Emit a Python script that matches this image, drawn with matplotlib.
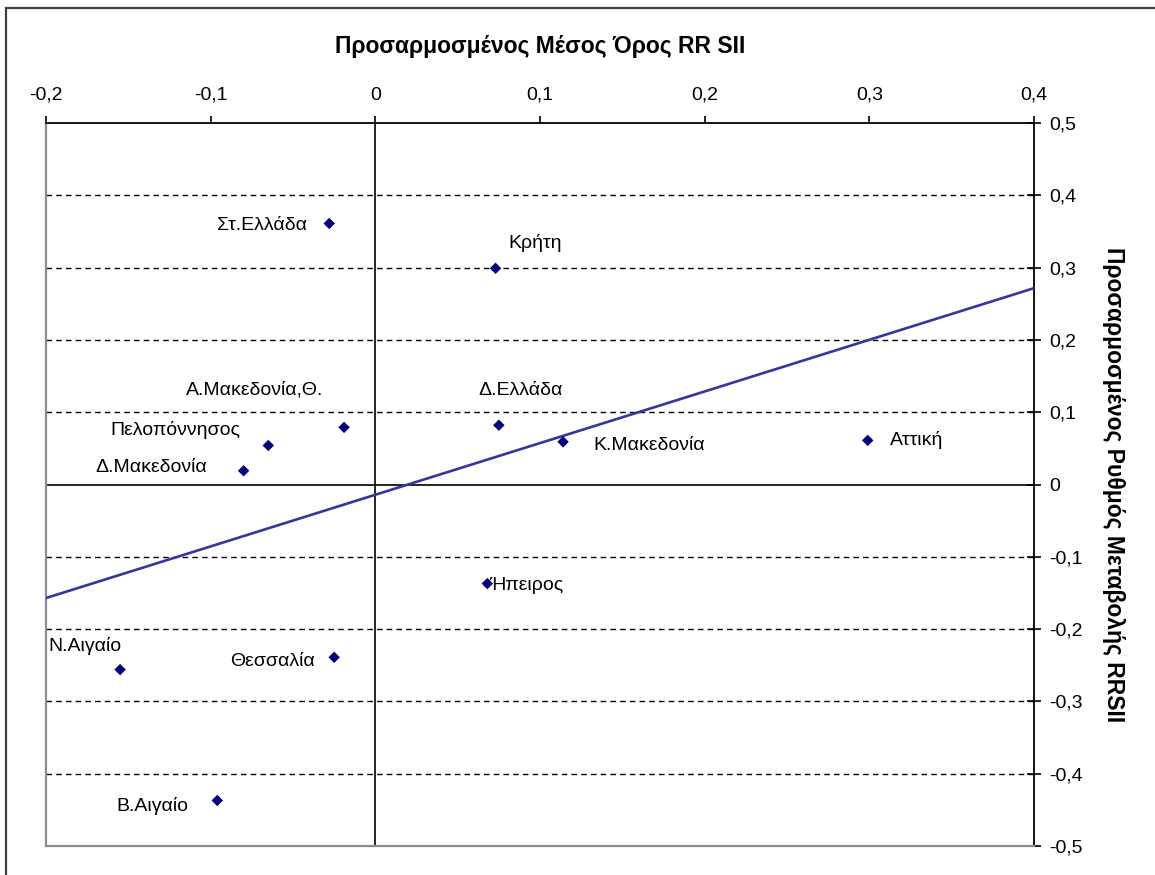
import matplotlib.pyplot as plt
import numpy as np
from matplotlib.patches import Rectangle

plt.rcParams['font.family'] = ['Liberation Sans', 'DejaVu Sans']

# regional values: adjusted mean RRSII (x) vs adjusted rate of change (y)
regions = ['Στ.Ελλάδα', 'Κρήτη', 'Α.Μακεδονία,Θ.', 'Πελοπόννησος', 'Δ.Μακεδονία',
           'Δ.Ελλάδα', 'Κ.Μακεδονία', 'Αττική', 'Ήπειρος', 'Ν.Αιγαίο',
           'Θεσσαλία', 'Β.Αιγαίο']
mean_rrsii = [-0.028, 0.073, -0.019, -0.065, -0.080,
              0.075, 0.114, 0.299, 0.068, -0.155,
              -0.025, -0.096]
change_rrsii = [0.361, 0.299, 0.079, 0.054, 0.019,
                0.082, 0.059, 0.061, -0.137, -0.256,
                -0.239, -0.437]

x_ticks = [-0.2, -0.1, 0, 0.1, 0.2, 0.3, 0.4]
y_ticks = [0.5, 0.4, 0.3, 0.2, 0.1, 0, -0.1, -0.2, -0.3, -0.4, -0.5]

# label offsets in pixels (dx, dy, alignment)
label_pos = {
    'Στ.Ελλάδα': (-22, -2, 'right'),
    'Κρήτη': (13, 25, 'left'),
    'Α.Μακεδονία,Θ.': (-21, 37, 'right'),
    'Πελοπόννησος': (-28, 15, 'right'),
    'Δ.Μακεδονία': (-36, 3, 'right'),
    'Δ.Ελλάδα': (-20, 35, 'left'),
    'Κ.Μακεδονία': (30, -4, 'left'),
    'Αττική': (22, 0, 'left'),
    'Ήπειρος': (2, -2, 'left'),
    'Ν.Αιγαίο': (-72, 24, 'left'),
    'Θεσσαλία': (-19, -4, 'right'),
    'Β.Αιγαίο': (-29, -6, 'right'),
}

fig = plt.figure(figsize=(11.55, 8.75), dpi=100)
ax = fig.add_axes([46 / 1155, 29 / 875, 988 / 1155, 723 / 875])

# outer chart frame (left and top edges)
fig.patches.append(Rectangle((6 / 1155, -0.1), 1.2, (875 - 8) / 875 + 0.1,
                             transform=fig.transFigure, fill=False,
                             edgecolor='#404040', linewidth=1.6))

ax.set_xlim(-0.2, 0.4)
ax.set_ylim(-0.5, 0.5)

# dashed horizontal gridlines
for v in y_ticks:
    if v not in (0, 0.5, -0.5):
        ax.axhline(v, color='black', linewidth=1.0, linestyle=(0, (4, 3)), zorder=1)

ax.axhline(0, color='black', linewidth=1.2, zorder=2)
ax.axvline(0, color='black', linewidth=1.2, zorder=2)

# linear trend line
slope, intercept = np.polyfit(mean_rrsii, change_rrsii, 1)
xs = np.array([-0.2, 0.4])
ax.plot(xs, slope * xs + intercept, color='#3535a0', linewidth=1.9, zorder=3)

ax.scatter(mean_rrsii, change_rrsii, marker='D', s=34, color='#000080',
           edgecolors='none', zorder=4)

for name, x, y in zip(regions, mean_rrsii, change_rrsii):
    dx, dy, ha = label_pos[name]
    ax.annotate(name, (x, y), xytext=(dx, dy), textcoords='offset pixels',
                ha=ha, va='center', fontsize=14, color='black')

ax.xaxis.tick_top()
ax.xaxis.set_label_position('top')
ax.yaxis.tick_right()
ax.yaxis.set_label_position('right')
ax.set_xticks(x_ticks)
ax.set_xticklabels([f'{v:g}'.replace('.', ',') for v in x_ticks])
ax.set_yticks(y_ticks)
ax.set_yticklabels([f'{v:g}'.replace('.', ',') for v in y_ticks])
ax.tick_params(axis='x', direction='out', length=5, width=1.2, pad=9,
               labelsize=14, colors='black')
ax.tick_params(axis='y', direction='inout', length=10, width=1.2, pad=6,
               labelsize=14, colors='black')

for side in ('left', 'bottom'):
    ax.spines[side].set_color('#8c8c8c')
    ax.spines[side].set_linewidth(1.6)
for side in ('top', 'right'):
    ax.spines[side].set_color('black')
    ax.spines[side].set_linewidth(1.3)

ax.set_xlabel('Προσαρμοσμένος Μέσος Όρος RR SII', fontsize=16.5, fontweight='bold',
              labelpad=24)
ax.set_ylabel('Προσαρμοσμένος Ρυθμός Μεταβολής RRSII', fontsize=16.5,
              fontweight='bold', rotation=270, labelpad=30)

plt.savefig('out.png', dpi=100)
